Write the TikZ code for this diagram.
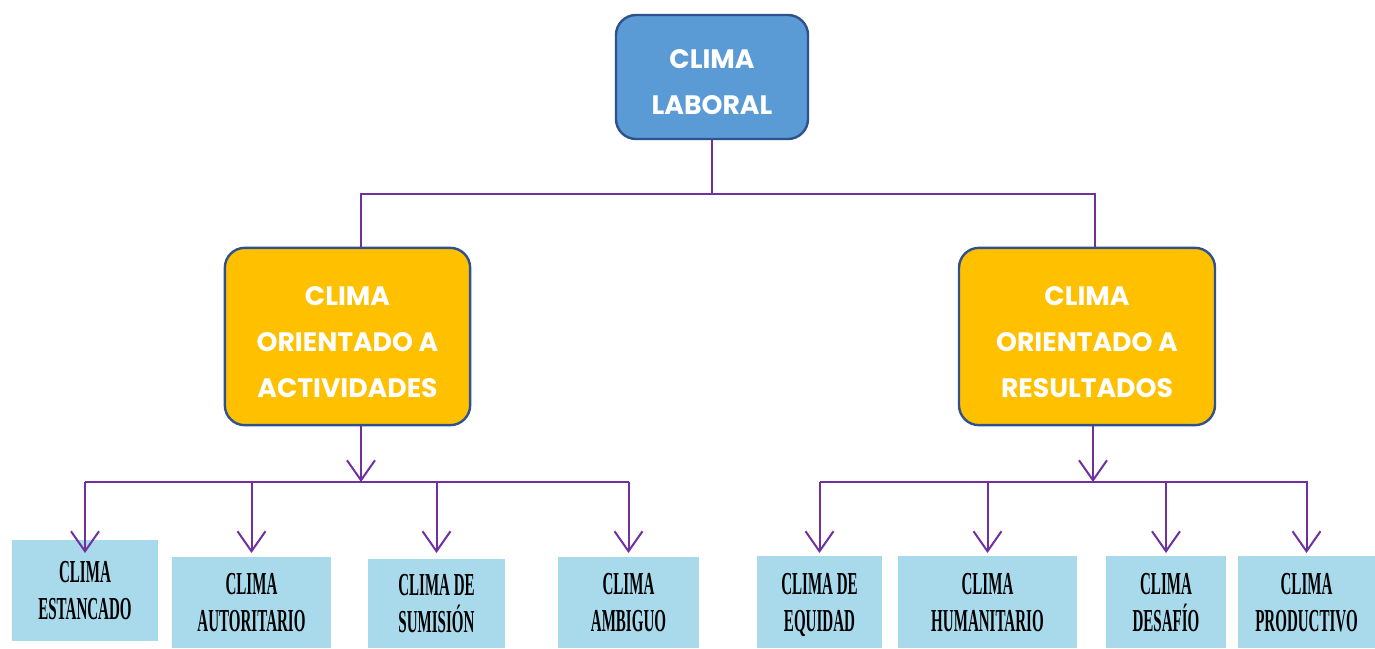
\documentclass[tikz,border=0pt]{standalone}
\usepackage{fontspec}
\usetikzlibrary{arrows.meta}
\newfontfamily\headfont{Poppins}
\newfontfamily\itemfont[FakeStretch=0.47]{Liberation Serif}

\definecolor{climablue}{HTML}{5B9BD5}
\definecolor{climaborder}{HTML}{2F528F}
\definecolor{climaorange}{HTML}{FFC000}
\definecolor{climasky}{HTML}{A9DAEC}
\definecolor{climapurple}{HTML}{7030A0}

\newcommand\headgap{\rule{0pt}{22pt}}

\tikzset{every picture/.style={line width=0.75pt}}
\tikzset{
  headbox/.style={draw=climaborder, line width=1.8pt, rounded corners=15pt, text=white,
    align=center, font=\headfont\bfseries\fontsize{20}{34.5}\selectfont},
  itembox/.style={fill=climasky, align=center, inner sep=0pt, text depth=0pt,
    font=\itemfont\bfseries\fontsize{24}{27.75}\selectfont},
  link/.style={draw=climapurple, line width=0.9pt},
  arr/.style={draw=climapurple, line width=1.5pt, -{Straight Barb[length=15pt,width=21pt,line width=1.5pt]}},
}

\begin{document}
\begin{tikzpicture}[x=0.75pt,y=0.75pt,yscale=-1,xscale=1]
		\useasboundingbox (0,0) rectangle (1375,649);
		
		% Head boxes
		\node (clima) [headbox, fill=climablue, minimum width=144pt, minimum height=93pt] at (712,77) {\headgap CLIMA\\LABORAL};
		\node (act) [headbox, fill=climaorange, minimum width=184pt, minimum height=133pt] at (347.5,336.5) {\headgap CLIMA\\ORIENTADO A\\ACTIVIDADES};
		\node (res) [headbox, fill=climaorange, minimum width=192pt, minimum height=133pt] at (1087,336.5) {\headgap CLIMA\\ORIENTADO A\\RESULTADOS};
		
		% Item boxes
		\node (est) [itembox, minimum width=109.5pt, minimum height=76pt] at (85,590.5) {CLIMA\\ESTANCADO};
		\node (aut) [itembox, minimum width=119pt, minimum height=68pt] at (251.5,602.5) {CLIMA\\AUTORITARIO};
		\node (sum) [itembox, minimum width=103pt, minimum height=67pt] at (436.5,603.5) {CLIMA DE\\SUMISIÓN};
		\node (amb) [itembox, minimum width=106pt, minimum height=68pt] at (628.5,602.5) {CLIMA\\AMBIGUO};
		\node (equ) [itembox, minimum width=94pt, minimum height=69pt] at (819.5,602) {CLIMA DE\\EQUIDAD};
		\node (hum) [itembox, minimum width=134pt, minimum height=69pt] at (987.5,602) {CLIMA\\HUMANITARIO};
		\node (des) [itembox, minimum width=90pt, minimum height=69pt] at (1166,602) {CLIMA\\DESAFÍO};
		\node (pro) [itembox, minimum width=103pt, minimum height=69pt] at (1306.5,602) {CLIMA\\PRODUCTIVO};
		
		% Bus points
		\coordinate (topbus) at (712,194);
		\coordinate (actbus) at (361,482);
		\coordinate (resbus) at (1093,482);
		
		% Top connector
		\draw [link] (clima.south) -- (topbus);
		\draw [link] (act.north -| 361,0) |- (topbus) -| (res.north -| 1095,0);
		
		% Left group
		\draw [arr] (act.south -| actbus) -- (actbus);
		\draw [climapurple, line width=1.5pt] (est |- actbus) -- (amb |- actbus);
		\foreach \n in {est,aut,sum,amb}
			\draw [arr] (\n |- actbus) -- ++(0,71);
		
		% Right group
		\draw [arr] (res.south -| resbus) -- (resbus);
		\draw [climapurple, line width=1.5pt] (equ |- resbus) -- (1308,482);
		\foreach \n in {equ,hum,des,pro}
			\draw [arr] (\n |- resbus) -- ++(0,71);
	\end{tikzpicture}
\end{document}
